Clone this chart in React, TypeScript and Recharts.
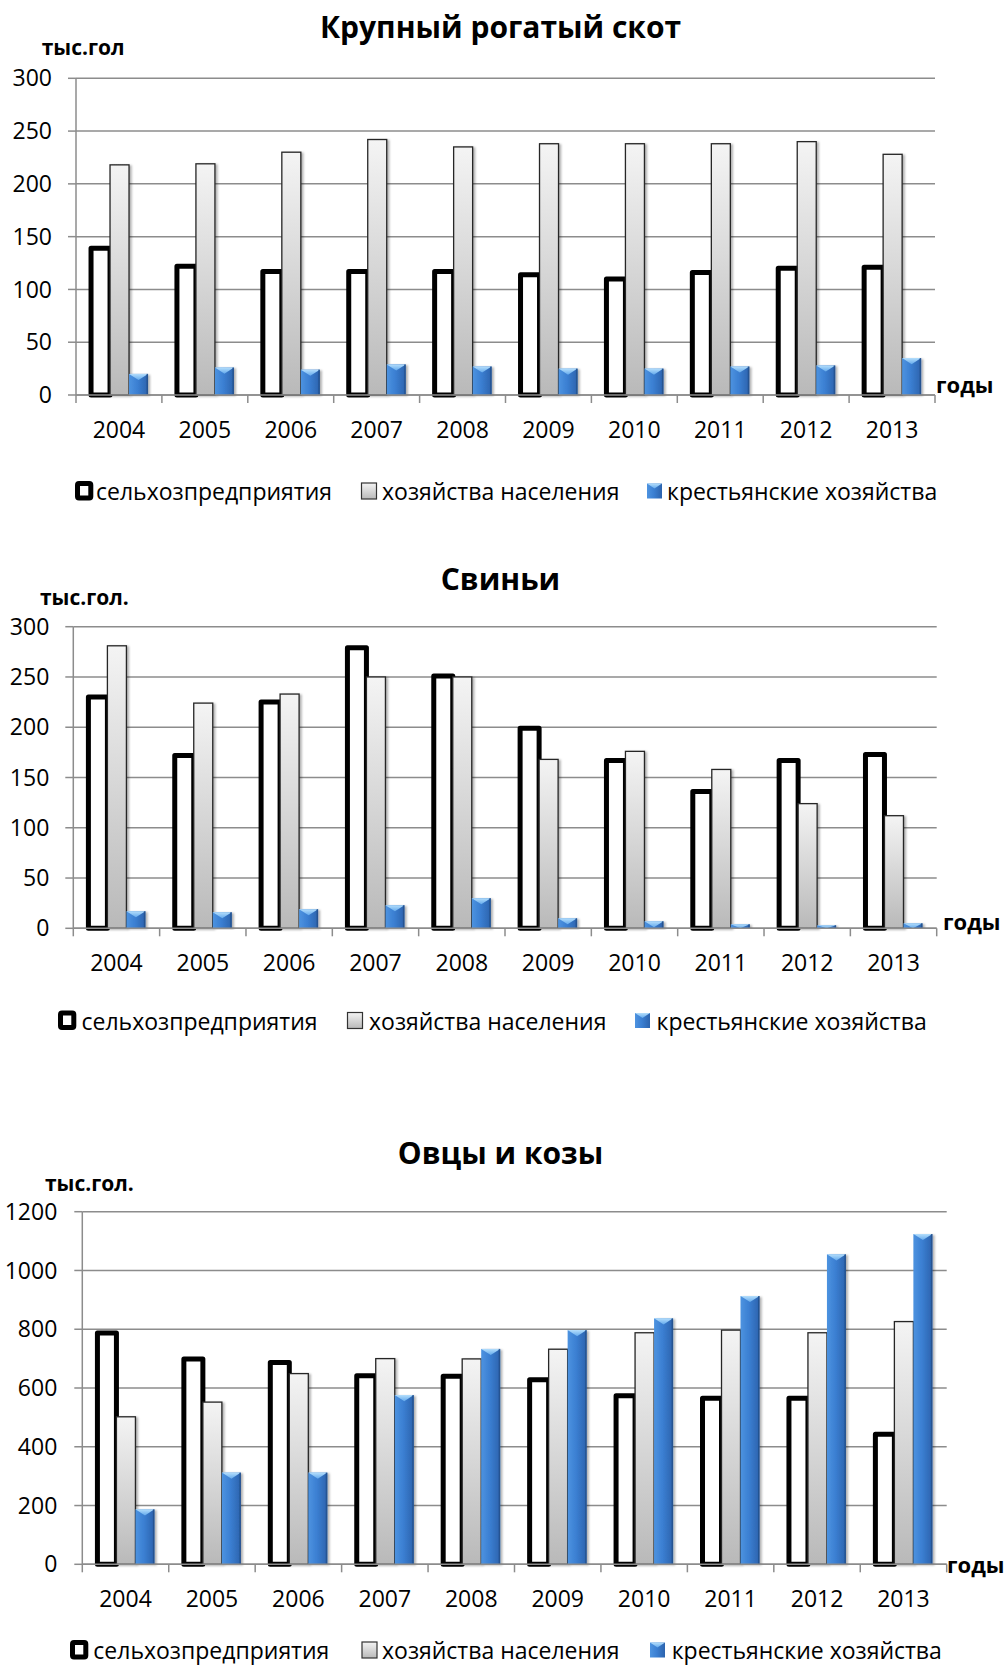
import React from 'react';
import { BarChart, Bar, XAxis, YAxis, CartesianGrid } from 'recharts';

const FONT = "'Open Sans', 'Noto Sans', sans-serif";
const PAGE_W = 1006;
const PAGE_H = 1665;

// Categories and series names
const years = ['2004', '2005', '2006', '2007', '2008', '2009', '2010', '2011', '2012', '2013'];
const seriesNames = ['сельхозпредприятия', 'хозяйства населения', 'крестьянские хозяйства'];

// Крупный рогатый скот, тыс. голов
const cattleFarms = [139, 122, 117, 117, 117, 114, 110, 116, 120, 121];
const cattleHouseholds = [218, 219, 230, 242, 235, 238, 238, 238, 240, 228];
const cattlePeasant = [20, 26, 24, 29, 27, 25, 25, 27, 28, 35];
const cattleTicks = [0, 50, 100, 150, 200, 250, 300];

// Свиньи, тыс. голов
const pigFarms = [230, 172, 225, 279, 251, 199, 167, 136, 167, 173];
const pigHouseholds = [281, 224, 233, 250, 250, 168, 176, 158, 124, 112];
const pigPeasant = [17, 16, 19, 23, 30, 10, 7, 4, 3, 5];
const pigTicks = [0, 50, 100, 150, 200, 250, 300];

// Овцы и козы, тыс. голов
const sheepFarms = [787, 699, 687, 642, 640, 628, 574, 565, 565, 443];
const sheepHouseholds = [502, 552, 649, 700, 699, 732, 788, 797, 788, 826];
const sheepPeasant = [187, 312, 312, 576, 733, 797, 837, 913, 1055, 1124];
const sheepTicks = [0, 200, 400, 600, 800, 1000, 1200];

const buildRows = (a: number[], b: number[], c: number[]) =>
  years.map((year, i) => ({ year, farms: a[i], households: b[i], peasant: c[i] }));

type Panel = {
  key: string;
  title: string;
  unit: string;
  rows: ReturnType<typeof buildRows>;
  ticks: number[];
  top: number;
  height: number;
  plotTop: number;
  plotLeft: number;
  plotRight: number;
  xAxisHeight: number;
  tickMargin: number;
  titleY: number;
  unitX: number;
  unitY: number;
  yearsX: number;
  yearsY: number;
  legendY: number;
  legendX: number[];
};

const panels: Panel[] = [
  {
    key: 'cattle',
    title: 'Крупный рогатый скот',
    unit: 'тыс.гол',
    rows: buildRows(cattleFarms, cattleHouseholds, cattlePeasant),
    ticks: cattleTicks,
    top: 0,
    height: 460,
    plotTop: 78.3,
    plotLeft: 76,
    plotRight: 935,
    xAxisHeight: 65,
    tickMargin: 16,
    titleY: 38,
    unitX: 41.7,
    unitY: 55,
    yearsX: 936,
    yearsY: 393,
    legendY: 500,
    legendX: [75, 96, 361.5, 382, 647, 667],
  },
  {
    key: 'pigs',
    title: 'Свиньи',
    unit: 'тыс.гол.',
    rows: buildRows(pigFarms, pigHouseholds, pigPeasant),
    ticks: pigTicks,
    top: 540,
    height: 460,
    plotTop: 86.7,
    plotLeft: 73.3,
    plotRight: 936.7,
    xAxisHeight: 71.7,
    tickMargin: 16,
    titleY: 589.5,
    unitX: 40,
    unitY: 605,
    yearsX: 943,
    yearsY: 930,
    legendY: 1029.5,
    legendX: [58, 81.5, 347.5, 369, 635, 656.5],
  },
  {
    key: 'sheep',
    title: 'Овцы и козы',
    unit: 'тыс.гол.',
    rows: buildRows(sheepFarms, sheepHouseholds, sheepPeasant),
    ticks: sheepTicks,
    top: 1100,
    height: 540,
    plotTop: 111.7,
    plotLeft: 82.3,
    plotRight: 946.7,
    xAxisHeight: 75.7,
    tickMargin: 17,
    titleY: 1163.5,
    unitX: 45,
    unitY: 1191,
    yearsX: 947,
    yearsY: 1573,
    legendY: 1659,
    legendX: [70, 93.3, 362, 382, 650, 671.7],
  },
];

const AXIS_GRAY = '#8c8c8c';

// White bar with a heavy black outline
const FarmShape = (p: any) => {
  if (!p.height || p.height <= 0) return null;
  return (
    <rect
      x={p.x}
      y={p.y}
      width={p.width}
      height={p.height}
      fill="#ffffff"
      stroke="#000000"
      strokeWidth={5}
      strokeLinejoin="round"
    />
  );
};

// Gray gradient bar with a thin dark outline and soft shadow
const HouseholdShape = (p: any) => {
  if (!p.height || p.height <= 0) return null;
  return (
    <rect
      x={p.x}
      y={p.y}
      width={p.width}
      height={p.height}
      fill="url(#hhGrad)"
      stroke="#262626"
      strokeWidth={1.3}
      filter="url(#barShadow)"
    />
  );
};

// Blue bevelled bar
const PeasantShape = (p: any) => {
  if (!p.height || p.height <= 0) return null;
  const { x, y, width: w, height: h } = p;
  const d = Math.min(w * 0.32, h);
  return (
    <g filter="url(#barShadow)">
      <rect x={x} y={y} width={w} height={h} fill="url(#blueGrad)" />
      <polygon
        points={`${x},${y} ${x + w},${y} ${x + w / 2},${y + d}`}
        fill="url(#bevelGrad)"
      />
      <rect x={x + w - 1.5} y={y} width={1.5} height={h} fill="#234f8a" opacity={0.8} />
    </g>
  );
};

const makeYearTick = (band: number) => (props: any) => {
  const { x, y, payload, index } = props;
  const last = index === years.length - 1;
  return (
    <g>
      <line x1={x - band / 2} y1={y} x2={x - band / 2} y2={y + 8} stroke={AXIS_GRAY} strokeWidth={1.5} />
      {last && (
        <line x1={x + band / 2} y1={y} x2={x + band / 2} y2={y + 8} stroke={AXIS_GRAY} strokeWidth={1.5} />
      )}
      <text x={x} y={y + 42.5} textAnchor="middle" fontFamily={FONT} fontSize={23} fill="#000">
        {payload.value}
      </text>
    </g>
  );
};

const ChartPanel = ({ panel }: { panel: Panel }) => {
  const band = (panel.plotRight - panel.plotLeft) / years.length;
  const max = panel.ticks[panel.ticks.length - 1];
  return (
    <div style={{ position: 'absolute', left: 0, top: panel.top, width: PAGE_W, height: panel.height }}>
      <BarChart
        width={PAGE_W}
        height={panel.height}
        data={panel.rows}
        margin={{ top: panel.plotTop, right: PAGE_W - panel.plotRight, bottom: 0, left: 0 }}
        barCategoryGap="17.5%"
        barGap={0}
      >
        <CartesianGrid vertical={false} stroke={AXIS_GRAY} strokeWidth={1.5} />
        <XAxis
          dataKey="year"
          height={panel.xAxisHeight}
          interval={0}
          tickSize={0}
          tickMargin={0}
          tickLine={false}
          axisLine={{ stroke: AXIS_GRAY, strokeWidth: 1.5 }}
          tick={makeYearTick(band)}
        />
        <YAxis
          type="number"
          domain={[0, max]}
          ticks={panel.ticks}
          interval={0}
          width={panel.plotLeft}
          tickSize={8}
          tickMargin={panel.tickMargin}
          axisLine={{ stroke: AXIS_GRAY, strokeWidth: 1.5 }}
          tickLine={{ stroke: AXIS_GRAY, strokeWidth: 1.5 }}
          tick={{ fill: '#000', fontSize: 23, fontFamily: FONT }}
        />
        <Bar dataKey="farms" name={seriesNames[0]} shape={FarmShape} isAnimationActive={false} />
        <Bar dataKey="households" name={seriesNames[1]} shape={HouseholdShape} isAnimationActive={false} />
        <Bar dataKey="peasant" name={seriesNames[2]} shape={PeasantShape} isAnimationActive={false} />
      </BarChart>
    </div>
  );
};

const LegendRow = ({ y, xs }: { y: number; xs: number[] }) => (
  <g>
    <rect x={xs[0] + 2.5} y={y - 16.5} width={13.3} height={14.5} rx={1.5} fill="#fff" stroke="#000" strokeWidth={5} />
    <text x={xs[1]} y={y} fontFamily={FONT} fontSize={23} fill="#000">{seriesNames[0]}</text>
    <rect x={xs[2]} y={y - 17} width={15} height={16} fill="url(#hhGrad)" stroke="#333" strokeWidth={1.2} />
    <text x={xs[3]} y={y} fontFamily={FONT} fontSize={23} fill="#000">{seriesNames[1]}</text>
    <g>
      <rect x={xs[4]} y={y - 16.5} width={15} height={15} fill="url(#blueGrad)" />
      <polygon
        points={`${xs[4]},${y - 16.5} ${xs[4] + 15},${y - 16.5} ${xs[4] + 7.5},${y - 11.5}`}
        fill="url(#bevelGrad)"
      />
    </g>
    <text x={xs[5]} y={y} fontFamily={FONT} fontSize={23} fill="#000">{seriesNames[2]}</text>
  </g>
);

export default function App() {
  return (
    <div style={{ position: 'absolute', left: 0, top: 0, width: PAGE_W, height: PAGE_H, background: '#fff', overflow: 'hidden' }}>
      <svg width={0} height={0} style={{ position: 'absolute' }}>
        <defs>
          <linearGradient id="hhGrad" x1="0" y1="0" x2="0" y2="1">
            <stop offset="0%" stopColor="#f4f4f4" />
            <stop offset="100%" stopColor="#b9b9b9" />
          </linearGradient>
          <linearGradient id="blueGrad" x1="0" y1="0" x2="1" y2="0">
            <stop offset="0%" stopColor="#4d93e0" />
            <stop offset="45%" stopColor="#3b7fd2" />
            <stop offset="100%" stopColor="#2c63ad" />
          </linearGradient>
          <linearGradient id="bevelGrad" x1="0" y1="0" x2="0" y2="1">
            <stop offset="0%" stopColor="#b4defc" />
            <stop offset="100%" stopColor="#64aaec" />
          </linearGradient>
          <filter id="barShadow" x="-30%" y="-10%" width="160%" height="120%">
            <feDropShadow dx={2} dy={1} stdDeviation={1.3} floodColor="#000" floodOpacity={0.3} />
          </filter>
        </defs>
      </svg>
      {panels.map((p) => (
        <ChartPanel key={p.key} panel={p} />
      ))}
      <svg
        width={PAGE_W}
        height={PAGE_H}
        style={{ position: 'absolute', left: 0, top: 0, pointerEvents: 'none' }}
      >
        {panels.map((p) => (
          <g key={p.key}>
            <text x={500.5} y={p.titleY} textAnchor="middle" fontFamily={FONT} fontWeight={700} fontSize={30} fill="#000">
              {p.title}
            </text>
            <text x={p.unitX} y={p.unitY} fontFamily={FONT} fontWeight={700} fontSize={21} fill="#000">
              {p.unit}
            </text>
            <text x={p.yearsX} y={p.yearsY} fontFamily={FONT} fontWeight={700} fontSize={22} fill="#000">
              годы
            </text>
            <LegendRow y={p.legendY} xs={p.legendX} />
          </g>
        ))}
      </svg>
    </div>
  );
}
